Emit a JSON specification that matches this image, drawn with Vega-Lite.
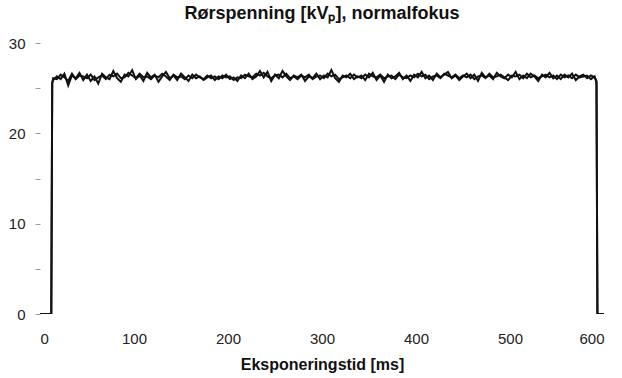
{
"$schema": "https://vega.github.io/schema/vega-lite/v6.json",
"width": 564, "height": 271,
"autosize": "none",
"padding": {"left": 40, "top": 43, "right": 18, "bottom": 64},
"background": "white",
"config": {"view": {"stroke": null}, "font": "Liberation Sans"},
"title": {"text": "Rørspenning [kVₚ], normalfokus", "fontSize": 18, "fontWeight": "bold", "font": "Liberation Sans", "color": "#111", "offset": 13},
"data": {"values": [
{"t":0,"a":0,"b":0},{"t":12,"a":0,"b":0},{"t":13,"a":25.6,"b":25.5},
{"t":14,"a":25.9,"b":26.1},{"t":18,"a":26.3,"b":26.0},{"t":22,"a":26.0,"b":26.5},{"t":26,"a":26.6,"b":26.2},{"t":30,"a":25.3,"b":25.8},
{"t":34,"a":26.4,"b":26.6},{"t":38,"a":26.1,"b":26.0},{"t":42,"a":26.7,"b":26.4},{"t":46,"a":25.9,"b":26.3},{"t":50,"a":26.5,"b":26.1},
{"t":54,"a":25.8,"b":26.5},{"t":58,"a":26.3,"b":25.9},{"t":62,"a":25.5,"b":26.2},{"t":66,"a":26.6,"b":26.4},{"t":70,"a":26.2,"b":26.0},
{"t":74,"a":26.0,"b":26.5},{"t":78,"a":26.9,"b":26.3},{"t":82,"a":26.1,"b":26.6},{"t":86,"a":25.7,"b":26.1},{"t":90,"a":26.5,"b":26.2},
{"t":94,"a":26.3,"b":26.7},{"t":98,"a":27.0,"b":26.4},{"t":102,"a":26.0,"b":26.1},{"t":106,"a":26.4,"b":26.6},{"t":110,"a":25.8,"b":26.2},
{"t":114,"a":26.7,"b":26.3},{"t":118,"a":26.2,"b":26.0},{"t":122,"a":26.5,"b":26.4},{"t":126,"a":25.7,"b":26.2},{"t":130,"a":26.3,"b":26.6},
{"t":134,"a":26.8,"b":26.3},{"t":138,"a":26.1,"b":25.9},{"t":142,"a":26.4,"b":26.5},{"t":146,"a":25.9,"b":26.2},{"t":150,"a":26.6,"b":26.3},
{"t":154,"a":26.2,"b":26.0},{"t":158,"a":25.8,"b":26.4},{"t":162,"a":26.5,"b":26.1},{"t":166,"a":26.1,"b":26.5},{"t":170,"a":26.3,"b":26.2},
{"t":174,"a":25.9,"b":26.0},{"t":178,"a":26.2,"b":26.4},{"t":182,"a":26.4,"b":26.1},{"t":186,"a":25.9,"b":26.3},{"t":190,"a":26.3,"b":26.0},
{"t":194,"a":26.1,"b":26.4},{"t":198,"a":26.5,"b":26.2},{"t":202,"a":26.0,"b":26.3},{"t":206,"a":26.2,"b":25.9},{"t":210,"a":25.8,"b":26.2},
{"t":214,"a":26.4,"b":26.1},{"t":218,"a":26.1,"b":26.5},{"t":222,"a":26.6,"b":26.3},{"t":226,"a":26.0,"b":26.2},{"t":230,"a":26.3,"b":26.6},
{"t":234,"a":26.9,"b":26.4},{"t":238,"a":26.2,"b":26.7},{"t":242,"a":26.8,"b":26.3},{"t":246,"a":25.8,"b":26.1},{"t":250,"a":26.5,"b":26.4},
{"t":254,"a":26.1,"b":26.5},{"t":258,"a":26.9,"b":26.2},{"t":262,"a":26.3,"b":26.6},{"t":266,"a":25.9,"b":26.1},{"t":270,"a":26.4,"b":26.3},
{"t":274,"a":26.2,"b":26.0},{"t":278,"a":26.5,"b":26.4},{"t":282,"a":25.8,"b":26.2},{"t":286,"a":26.3,"b":26.5},{"t":290,"a":26.1,"b":26.0},
{"t":294,"a":26.6,"b":26.3},{"t":298,"a":26.0,"b":26.4},{"t":302,"a":26.4,"b":26.1},{"t":306,"a":26.2,"b":26.6},{"t":310,"a":27.0,"b":26.3},
{"t":314,"a":26.1,"b":26.5},{"t":318,"a":25.7,"b":26.0},{"t":322,"a":26.4,"b":26.2},{"t":326,"a":26.2,"b":26.4},{"t":330,"a":26.6,"b":26.1},
{"t":334,"a":26.0,"b":26.5},{"t":338,"a":26.3,"b":26.2},{"t":342,"a":26.1,"b":26.4},{"t":346,"a":26.5,"b":25.9},{"t":350,"a":26.2,"b":26.6},
{"t":354,"a":26.7,"b":26.3},{"t":358,"a":25.9,"b":26.2},{"t":362,"a":26.4,"b":26.5},{"t":366,"a":25.7,"b":26.1},{"t":370,"a":26.5,"b":26.3},
{"t":374,"a":26.1,"b":26.4},{"t":378,"a":26.3,"b":26.0},{"t":382,"a":26.7,"b":26.5},{"t":386,"a":26.0,"b":26.2},{"t":390,"a":26.4,"b":26.1},
{"t":394,"a":25.8,"b":26.4},{"t":398,"a":26.5,"b":26.2},{"t":402,"a":26.2,"b":26.6},{"t":406,"a":26.8,"b":26.3},{"t":410,"a":26.1,"b":26.5},
{"t":414,"a":26.4,"b":26.0},{"t":418,"a":25.9,"b":26.3},{"t":422,"a":26.6,"b":26.4},{"t":426,"a":26.2,"b":26.1},{"t":430,"a":26.5,"b":26.6},
{"t":434,"a":26.8,"b":26.4},{"t":438,"a":26.1,"b":26.2},{"t":442,"a":26.4,"b":26.5},{"t":446,"a":25.9,"b":26.1},{"t":450,"a":26.3,"b":26.4},
{"t":454,"a":26.6,"b":26.2},{"t":458,"a":26.1,"b":26.5},{"t":462,"a":26.5,"b":26.0},{"t":466,"a":25.8,"b":26.3},{"t":470,"a":26.7,"b":26.4},
{"t":474,"a":26.2,"b":26.1},{"t":478,"a":26.4,"b":26.6},{"t":482,"a":26.0,"b":26.2},{"t":486,"a":26.7,"b":26.3},{"t":490,"a":26.3,"b":26.5},
{"t":494,"a":26.1,"b":26.2},{"t":498,"a":26.5,"b":25.9},{"t":502,"a":26.2,"b":26.4},{"t":506,"a":26.8,"b":26.3},{"t":510,"a":26.0,"b":26.5},
{"t":514,"a":26.4,"b":26.1},{"t":518,"a":26.1,"b":26.6},{"t":522,"a":26.6,"b":26.2},{"t":526,"a":26.3,"b":26.4},{"t":530,"a":25.8,"b":26.1},
{"t":534,"a":26.5,"b":26.3},{"t":538,"a":26.2,"b":26.5},{"t":542,"a":26.7,"b":26.2},{"t":546,"a":26.1,"b":26.4},{"t":550,"a":26.4,"b":26.0},
{"t":554,"a":26.0,"b":26.5},{"t":558,"a":26.5,"b":26.2},{"t":562,"a":26.2,"b":26.4},{"t":566,"a":26.6,"b":26.1},{"t":570,"a":25.9,"b":26.5},
{"t":574,"a":26.3,"b":26.2},{"t":578,"a":26.5,"b":26.3},{"t":582,"a":26.1,"b":26.4},{"t":586,"a":26.4,"b":26.0},{"t":590,"a":26.2,"b":26.3},
{"t":592,"a":25.8,"b":25.6},{"t":593,"a":0,"b":0},{"t":600,"a":0,"b":0}
]},
"transform": [{"fold": ["a", "b"], "as": ["trace", "kV"]}],
"mark": {"type": "line", "color": "#111", "strokeWidth": 2, "clip": true},
"encoding": {
"x": {"field": "t", "type": "quantitative",
"scale": {"domain": [0, 600], "nice": false, "zero": false},
"axis": {"values": [0,100,200,300,400,500,600], "domain": false, "ticks": false, "grid": false,
"labelPadding": 17, "labelFontSize": 15, "labelColor": "#222", "labelFont": "Liberation Sans",
"title": "Eksponeringstid [ms]", "titleFontSize": 16, "titleFontWeight": "bold", "titleColor": "#111", "titleFont": "Liberation Sans", "titlePadding": 10}},
"y": {"field": "kV", "type": "quantitative",
"scale": {"domain": [0, 30], "nice": false},
"axis": {"values": [0,5,10,15,20,25,30], "labelExpr": "datum.value % 10 == 0 ? datum.label : ''",
"domain": false, "grid": false, "ticks": true, "tickSize": 5, "tickColor": "#999", "tickWidth": 1,
"labelPadding": 10, "labelFontSize": 15, "labelColor": "#222", "labelFont": "Liberation Sans", "title": null}},
"detail": {"field": "trace", "type": "nominal"}
}
}
